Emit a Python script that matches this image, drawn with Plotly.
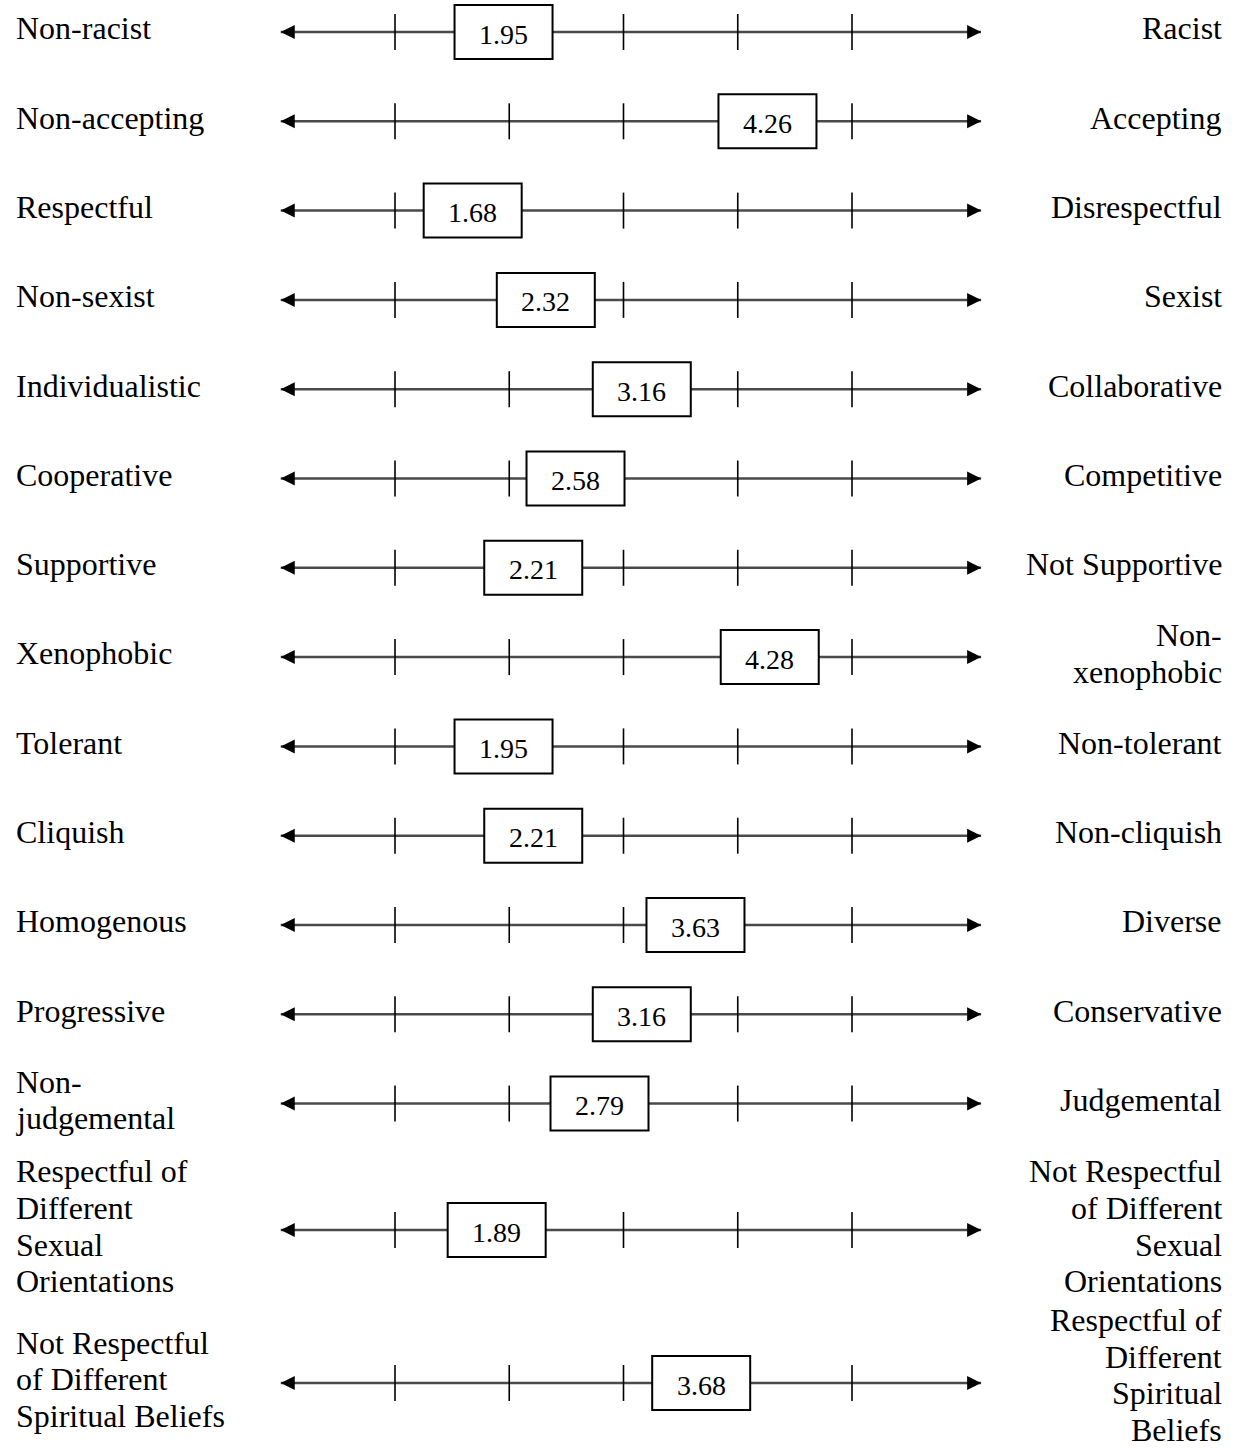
import plotly.graph_objects as go

# ---------------- data ----------------
left_labels = [
    "Non-racist", "Non-accepting", "Respectful", "Non-sexist", "Individualistic",
    "Cooperative", "Supportive", "Xenophobic", "Tolerant", "Cliquish",
    "Homogenous", "Progressive", "Non-\njudgemental",
    "Respectful of\nDifferent\nSexual\nOrientations",
    "Not Respectful\nof Different\nSpiritual Beliefs",
]
right_labels = [
    "Racist", "Accepting", "Disrespectful", "Sexist", "Collaborative",
    "Competitive", "Not Supportive", "Non-\nxenophobic", "Non-tolerant", "Non-cliquish",
    "Diverse", "Conservative", "Judgemental",
    "Not Respectful\nof Different\nSexual\nOrientations",
    "Respectful of\nDifferent\nSpiritual\nBeliefs",
]
mean_scores = [1.95, 4.26, 1.68, 2.32, 3.16, 2.58, 2.21, 4.28, 1.95, 2.21,
               3.63, 3.16, 2.79, 1.89, 3.68]
score_labels = ["1.95", "4.26", "1.68", "2.32", "3.16", "2.58", "2.21", "4.28", "1.95", "2.21",
                "3.63", "3.16", "2.79", "1.89", "3.68"]
scale_ticks = [1, 2, 3, 4, 5]

# ---------------- layout constants ----------------
W, H = 1235, 1448
PX_PER_UNIT = 114.25          # pixels per scale point
X_AT_ONE = 395                # pixel position of scale point 1
x0 = 1 - X_AT_ONE / PX_PER_UNIT
x1 = x0 + W / PX_PER_UNIT
ARROW_LEFT, ARROW_RIGHT = 0.0, 6.13   # arrow tips in scale units
row_y = [32 + 89.3 * i for i in range(13)] + [1230, 1383]
TICK_HALF = 18
BOX_HALF_W = 49 / PX_PER_UNIT
BOX_HALF_H = 27
LINE_SP = 36.7
FONT = "Liberation Serif, Times New Roman, serif"
LABEL_SIZE = 32
NUM_SIZE = 28

fig = go.Figure()

# main lines
for y in row_y:
    fig.add_trace(go.Scatter(
        x=[ARROW_LEFT, ARROW_RIGHT], y=[y, y], mode="lines",
        line=dict(color="#4a4a4a", width=2.5), hoverinfo="skip", showlegend=False))

# tick marks
tx, ty = [], []
for y in row_y:
    for t in scale_ticks:
        tx += [t, t, None]
        ty += [y - TICK_HALF, y + TICK_HALF, None]
fig.add_trace(go.Scatter(x=tx, y=ty, mode="lines", line=dict(color="black", width=1.6),
                         hoverinfo="skip", showlegend=False))

# arrowheads
fig.add_trace(go.Scatter(
    x=[ARROW_LEFT] * len(row_y) + [ARROW_RIGHT] * len(row_y),
    y=row_y + row_y, mode="markers",
    marker=dict(symbol=["arrow-left"] * len(row_y) + ["arrow-right"] * len(row_y),
                size=14, color="black", line=dict(width=0)),
    hoverinfo="skip", showlegend=False))

# boxes with scores
for v, s, y in zip(mean_scores, score_labels, row_y):
    fig.add_shape(type="rect", xref="x", yref="y",
                  x0=v - BOX_HALF_W, x1=v + BOX_HALF_W, y0=y - BOX_HALF_H, y1=y + BOX_HALF_H,
                  line=dict(color="black", width=2), fillcolor="white", layer="above")
    fig.add_annotation(x=v, y=y + 2, xref="x", yref="y", text=s, showarrow=False,
                       xanchor="center", yanchor="middle",
                       font=dict(family=FONT, size=NUM_SIZE, color="black"))

# side labels
def add_label(text, y, side):
    lines = text.split("\n")
    n = len(lines)
    centers = [y - 3.7 + (i - (n - 1) / 2) * LINE_SP for i in range(n)]
    shift = max(0, centers[-1] - (H - 18))
    for ln, yc in zip(lines, centers):
        fig.add_annotation(
            x=14 / W if side == "left" else 1224 / W, xref="paper",
            y=yc - shift, yref="y", text=ln, showarrow=False,
            xanchor="left" if side == "left" else "right", yanchor="middle",
            align=side, font=dict(family=FONT, size=LABEL_SIZE, color="black"))

for lt, rt, y in zip(left_labels, right_labels, row_y):
    add_label(lt, y, "left")
    add_label(rt, y, "right")

fig.update_layout(
    width=W, height=H, margin=dict(l=0, r=0, t=0, b=0),
    paper_bgcolor="white", plot_bgcolor="white", showlegend=False,
    xaxis=dict(range=[x0, x1], visible=False, fixedrange=True),
    yaxis=dict(range=[H, 0], visible=False, fixedrange=True),
)

fig.write_html("out.html", config={"displayModeBar": False},
               post_script="document.body.style.margin='0';")
